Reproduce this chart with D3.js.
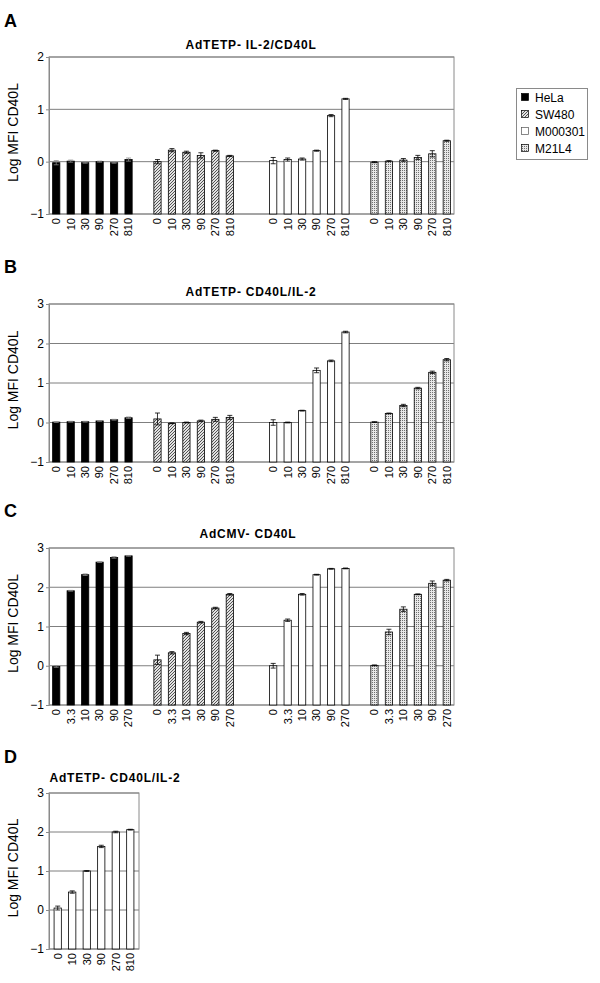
<!DOCTYPE html>
<html><head><meta charset="utf-8">
<script src="https://cdn.jsdelivr.net/npm/d3@7"></script>
<style>body{margin:0;background:#fff}svg{display:block}</style>
</head><body>
<svg id="c" width="600" height="983"></svg>
<script>
// ---------- data ----------
const cellLines = ["HeLa", "SW480", "M000301", "M21L4"];
const dosesTETP = ["0", "10", "30", "90", "270", "810"];
const dosesCMV = ["0", "3.3", "10", "30", "90", "270"];
const yTicksA = [-1, 0, 1, 2];
const yTicksBCD = [-1, 0, 1, 2, 3];
const panelTitles = ["AdTETP- IL-2/CD40L", "AdTETP- CD40L/IL-2", "AdCMV- CD40L", "AdTETP- CD40L/IL-2"];
const panelLetters = ["A", "B", "C", "D"];

// Panel A: AdTETP-IL-2/CD40L
const aHeLa    = [-0.02, 0.01, -0.02, 0.00, -0.02, 0.04];
const aSW480   = [0.00, 0.22, 0.18, 0.12, 0.21, 0.11];
const aM000301 = [0.02, 0.04, 0.05, 0.21, 0.88, 1.20];
const aM21L4   = [-0.01, 0.01, 0.03, 0.08, 0.15, 0.40];
const aHeLaErr    = [0.04, 0.02, 0.01, 0.01, 0.01, 0.03];
const aSW480Err   = [0.04, 0.03, 0.02, 0.05, 0.01, 0.01];
const aM000301Err = [0.06, 0.03, 0.02, 0.01, 0.02, 0.01];
const aM21L4Err   = [0.01, 0.01, 0.03, 0.04, 0.06, 0.01];

// Panel B: AdTETP-CD40L/IL-2
const bHeLa    = [0.01, 0.02, 0.02, 0.04, 0.07, 0.12];
const bSW480   = [0.09, -0.02, 0.00, 0.04, 0.08, 0.13];
const bM000301 = [0.00, 0.00, 0.30, 1.32, 1.56, 2.29];
const bM21L4   = [0.01, 0.23, 0.43, 0.87, 1.27, 1.59];
const bHeLaErr    = [0.01, 0.01, 0.01, 0.01, 0.01, 0.02];
const bSW480Err   = [0.15, 0.01, 0.01, 0.02, 0.05, 0.05];
const bM000301Err = [0.07, 0.01, 0.01, 0.06, 0.02, 0.02];
const bM21L4Err   = [0.01, 0.01, 0.03, 0.02, 0.03, 0.03];

// Panel C: AdCMV-CD40L
const cHeLa    = [-0.02, 1.91, 2.32, 2.64, 2.76, 2.80];
const cSW480   = [0.15, 0.33, 0.82, 1.11, 1.47, 1.82];
const cM000301 = [0.00, 1.16, 1.82, 2.32, 2.47, 2.48];
const cM21L4   = [0.01, 0.86, 1.44, 1.82, 2.10, 2.18];
const cHeLaErr    = [0.02, 0.01, 0.02, 0.01, 0.02, 0.01];
const cSW480Err   = [0.12, 0.03, 0.03, 0.02, 0.02, 0.02];
const cM000301Err = [0.06, 0.03, 0.02, 0.01, 0.01, 0.01];
const cM21L4Err   = [0.01, 0.07, 0.06, 0.01, 0.06, 0.02];

// Panel D: AdTETP-CD40L/IL-2 (M000301)
const dM000301    = [0.05, 0.46, 1.00, 1.63, 2.00, 2.06];
const dM000301Err = [0.05, 0.03, 0.01, 0.03, 0.02, 0.01];

// ---------- drawing ----------
const svg = d3.select("#c");
const FONT = "Liberation Sans, Arial, Helvetica, sans-serif";

const defs = svg.append("defs");
const hatch = defs.append("pattern").attr("id", "hatch").attr("patternUnits", "userSpaceOnUse")
  .attr("width", 3).attr("height", 3);
hatch.append("rect").attr("width", 3).attr("height", 3).attr("fill", "#e2e2e2");
hatch.append("path").attr("d", "M-1,1 L1,-1 M0,3 L3,0 M2,4 L4,2")
  .attr("stroke", "#444").attr("stroke-width", 0.9);
const dots = defs.append("pattern").attr("id", "dots").attr("patternUnits", "userSpaceOnUse")
  .attr("width", 2).attr("height", 2);
dots.append("rect").attr("width", 2).attr("height", 2).attr("fill", "#e8e8e8");
dots.append("rect").attr("width", 1).attr("height", 1).attr("fill", "#707070");

const fills = {HeLa: "#000", SW480: "url(#hatch)", M000301: "#fff", M21L4: "url(#dots)"};

function panel(cfg) {
  const g = svg.append("g");
  const y = d3.scaleLinear().domain(cfg.domain).range([cfg.bottom, cfg.top]);

  // band keys: groups separated by blank slots
  const keys = [];
  cfg.groups.forEach((grp, gi) => {
    grp.values.forEach((v, i) => keys.push(gi + "-" + i));
    if (gi < cfg.groups.length - 1) {
      for (let b = 0; b < cfg.gaps[gi]; b++) keys.push("blank" + gi + "-" + b);
    }
  });
  const x = d3.scaleBand().domain(keys).range([cfg.left, cfg.right])
    .paddingInner(0.5).paddingOuter(cfg.outer);

  // gridlines
  g.selectAll("line.grid").data(cfg.ticks).enter().append("line")
    .attr("x1", cfg.left).attr("x2", cfg.right)
    .attr("y1", d => y(d)).attr("y2", d => y(d))
    .attr("stroke", "#7f7f7f").attr("stroke-width", 1);
  // box
  g.append("rect").attr("x", cfg.left).attr("y", cfg.top)
    .attr("width", cfg.right - cfg.left).attr("height", cfg.bottom - cfg.top)
    .attr("fill", "none").attr("stroke", "#8a8a8a").attr("stroke-width", 1);

  // y axis
  const yAxis = d3.axisLeft(y).tickValues(cfg.ticks).tickSize(3).tickPadding(2).tickFormat(d3.format("d"));
  const ya = g.append("g").attr("transform", `translate(${cfg.left},0)`).call(yAxis);
  ya.select(".domain").attr("stroke", "#8a8a8a");
  ya.selectAll(".tick line").attr("stroke", "#8a8a8a");
  ya.selectAll("text").attr("font-family", FONT).attr("font-size", 12).attr("fill", "#000");

  // bars
  cfg.groups.forEach((grp, gi) => {
    const data = grp.values.map((v, i) => ({key: gi + "-" + i, v, e: grp.errs[i], label: grp.labels[i]}));
    g.selectAll(null).data(data).enter().append("rect")
      .attr("x", d => x(d.key)).attr("width", x.bandwidth())
      .attr("y", d => y(d.v)).attr("height", d => y(cfg.domain[0]) - y(d.v))
      .attr("fill", fills[grp.series]).attr("stroke", "#000").attr("stroke-width", 0.8);
    const errColor = grp.series === "HeLa" ? "#888" : "#000";
    const eb = g.selectAll(null).data(data).enter().append("g");
    eb.append("line").attr("x1", d => x(d.key) + x.bandwidth() / 2).attr("x2", d => x(d.key) + x.bandwidth() / 2)
      .attr("y1", d => y(d.v - d.e)).attr("y2", d => y(d.v + d.e))
      .attr("stroke", errColor).attr("stroke-width", 0.8);
    [1, -1].forEach(s => {
      eb.append("line")
        .attr("x1", d => x(d.key) + x.bandwidth() / 2 - 2.5).attr("x2", d => x(d.key) + x.bandwidth() / 2 + 2.5)
        .attr("y1", d => y(d.v + s * d.e)).attr("y2", d => y(d.v + s * d.e))
        .attr("stroke", errColor).attr("stroke-width", 0.8);
    });
    // x labels
    g.selectAll(null).data(data).enter().append("text")
      .attr("transform", d => `translate(${x(d.key) + x.bandwidth() / 2},${cfg.bottom + 4}) rotate(-90)`)
      .attr("text-anchor", "end").attr("dy", "0.35em")
      .attr("font-family", FONT).attr("font-size", 11).attr("fill", "#000")
      .text(d => d.label);
  });

  // y title
  g.append("text")
    .attr("transform", `translate(18,${(cfg.top + cfg.bottom) / 2 - 3}) rotate(-90)`)
    .attr("text-anchor", "middle").attr("font-family", FONT).attr("font-size", 14)
    .text("Log MFI CD40L");
  // chart title
  g.append("text").attr("x", cfg.titleX).attr("y", cfg.titleY).attr("text-anchor", "middle")
    .attr("font-family", FONT).attr("font-size", 12).attr("font-weight", "bold")
    .attr("letter-spacing", 0.8).text(cfg.title);
  // panel letter
  g.append("text").attr("x", 4).attr("y", cfg.letterY)
    .attr("font-family", FONT).attr("font-size", 18).attr("font-weight", "bold").text(cfg.letter);
}

function groupsFor(arrs, errs, labels) {
  return cellLines.map((s, i) => ({series: s, values: arrs[i], errs: errs[i], labels}));
}

panel({
  left: 49, right: 454, top: 57, bottom: 214, domain: [-1, 2], ticks: yTicksA,
  groups: groupsFor([aHeLa, aSW480, aM000301, aM21L4], [aHeLaErr, aSW480Err, aM000301Err, aM21L4Err], dosesTETP),
  gaps: [1, 2, 1], outer: 0.25,
  title: panelTitles[0], titleX: 251, titleY: 49, letter: panelLetters[0], letterY: 27
});
panel({
  left: 49, right: 454, top: 304, bottom: 462, domain: [-1, 3], ticks: yTicksBCD,
  groups: groupsFor([bHeLa, bSW480, bM000301, bM21L4], [bHeLaErr, bSW480Err, bM000301Err, bM21L4Err], dosesTETP),
  gaps: [1, 2, 1], outer: 0.25,
  title: panelTitles[1], titleX: 251, titleY: 296, letter: panelLetters[1], letterY: 273
});
panel({
  left: 49, right: 454, top: 548, bottom: 705, domain: [-1, 3], ticks: yTicksBCD,
  groups: groupsFor([cHeLa, cSW480, cM000301, cM21L4], [cHeLaErr, cSW480Err, cM000301Err, cM21L4Err], dosesCMV),
  gaps: [1, 2, 1], outer: 0.25,
  title: panelTitles[2], titleX: 248, titleY: 538, letter: panelLetters[2], letterY: 517
});
panel({
  left: 49, right: 139, top: 793, bottom: 949, domain: [-1, 3], ticks: yTicksBCD,
  groups: [{series: "M000301", values: dM000301, errs: dM000301Err, labels: dosesTETP}],
  gaps: [], outer: 0.35,
  title: panelTitles[3], titleX: 115, titleY: 782, letter: panelLetters[3], letterY: 763
});

// legend
const lg = svg.append("g");
lg.append("rect").attr("x", 516.5).attr("y", 88.5).attr("width", 71).attr("height", 71)
  .attr("fill", "#fff").attr("stroke", "#8a8a8a");
cellLines.forEach((s, i) => {
  const yy = 102 + i * 17;
  lg.append("rect").attr("x", 521.5).attr("y", yy - 8.5).attr("width", 7).attr("height", 7)
    .attr("fill", fills[s]).attr("stroke", s === "M000301" ? "#555" : "#000").attr("stroke-width", 0.7);
  lg.append("text").attr("x", 535).attr("y", yy).attr("font-family", FONT).attr("font-size", 12).text(s);
});
</script>
</body></html>
